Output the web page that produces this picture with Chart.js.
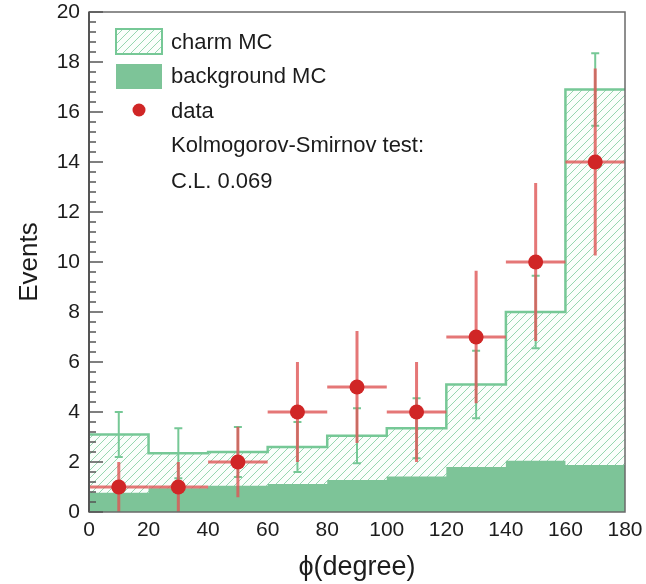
<!DOCTYPE html>
<html>
<head>
<meta charset="utf-8">
<script src="https://cdn.jsdelivr.net/npm/chart.js@4.4.1/dist/chart.umd.min.js"></script>
<style>
html,body{margin:0;padding:0;background:#fff;}
#wrap{width:646px;height:584px;position:relative;}
</style>
</head>
<body>
<div id="wrap"><canvas id="c" width="646" height="584"></canvas></div>
<script>
// ---- data ----
const binEdges     = [0, 20, 40, 60, 80, 100, 120, 140, 160, 180];
const charmMC      = [3.1, 2.35, 2.4, 2.6, 3.05, 3.35, 5.1, 8.0, 16.9];
const charmErr     = [0.9, 1.0, 1.0, 1.0, 1.1, 1.2, 1.35, 1.45, 1.45];
const backgroundMC = [0.77, 0.95, 1.05, 1.12, 1.28, 1.42, 1.8, 2.05, 1.88];
const dataCounts   = [1, 1, 2, 4, 5, 4, 7, 10, 14];
const dataErr      = [1, 1, 1.41, 2, 2.24, 2, 2.65, 3.16, 3.74];
const yTickValues  = [0, 2, 4, 6, 8, 10, 12, 14, 16, 18, 20];
const xTickValues  = [0, 20, 40, 60, 80, 100, 120, 140, 160, 180];
const legendLabels = ['charm MC', 'background MC', 'data'];
const ksText       = ['Kolmogorov-Smirnov test:', 'C.L. 0.069'];

const GREEN_LINE = 'rgb(118,200,150)';
const GREEN_FILL = 'rgb(125,196,152)';
const RED_PT = 'rgb(208,38,38)';
const RED_BAR = 'rgba(222,85,85,0.8)';
const TEXT = '#1c1c1c';
const FONT = '"Liberation Sans", Arial, Helvetica, sans-serif';

function stepPoints(vals){
  return binEdges.map((x,i)=>({x:x, y:vals[Math.min(i, vals.length-1)]}));
}
const binCenters = binEdges.slice(0,-1).map((e,i)=>(e+binEdges[i+1])/2);

function makeHatch(){
  const s = 8;
  const c = document.createElement('canvas'); c.width = s; c.height = s;
  const g = c.getContext('2d');
  g.fillStyle = 'rgb(250,254,251)'; g.fillRect(0,0,s,s);
  g.strokeStyle = 'rgb(150,214,176)'; g.lineWidth = 1;
  g.beginPath();
  g.moveTo(0,s); g.lineTo(s,0);
  g.moveTo(-2,2); g.lineTo(2,-2);
  g.moveTo(s-2,s+2); g.lineTo(s+2,s-2);
  g.stroke();
  return g.createPattern(c,'repeat');
}
const hatch = makeHatch();

const decoPlugin = {
  id:'deco',
  afterDatasetDraw(chart, args){
    const ctx = chart.ctx, xs = chart.scales.x, ys = chart.scales.y;
    if (args.index === 1){
      ctx.save();
      ctx.strokeStyle = GREEN_LINE; ctx.lineWidth = 2;
      binCenters.forEach((xc,i)=>{
        const px = xs.getPixelForValue(xc);
        const yt = ys.getPixelForValue(charmMC[i]+charmErr[i]);
        const yb = ys.getPixelForValue(charmMC[i]-charmErr[i]);
        ctx.beginPath();
        ctx.moveTo(px,yt); ctx.lineTo(px,yb);
        ctx.moveTo(px-4,yt); ctx.lineTo(px+4,yt);
        ctx.moveTo(px-4,yb); ctx.lineTo(px+4,yb);
        ctx.stroke();
      });
      ctx.restore();
    }
  },
  beforeDatasetDraw(chart, args){
    if (args.index !== 0) return;
    const ctx = chart.ctx, xs = chart.scales.x, ys = chart.scales.y;
    ctx.save();
    ctx.strokeStyle = RED_BAR; ctx.lineWidth = 3;
    binCenters.forEach((xc,i)=>{
      const px = xs.getPixelForValue(xc);
      const py = ys.getPixelForValue(dataCounts[i]);
      const yt = ys.getPixelForValue(dataCounts[i]+dataErr[i]);
      const yb = ys.getPixelForValue(Math.max(0,dataCounts[i]-dataErr[i]));
      const xl = xs.getPixelForValue(binEdges[i]);
      const xr = xs.getPixelForValue(binEdges[i+1]);
      ctx.beginPath();
      ctx.moveTo(px,yt); ctx.lineTo(px,yb);
      ctx.moveTo(xl,py); ctx.lineTo(xr,py);
      ctx.stroke();
    });
    ctx.restore();
  },
  afterDraw(chart){
    const ctx = chart.ctx, a = chart.chartArea, ys = chart.scales.y;
    ctx.save();
    ctx.strokeStyle = '#6a6a6a'; ctx.lineWidth = 1.5;
    ctx.strokeRect(a.left, a.top, a.right-a.left, a.bottom-a.top);
    ctx.strokeStyle = '#555'; ctx.lineWidth = 2;
    ctx.beginPath(); ctx.moveTo(a.left, a.top); ctx.lineTo(a.left, a.bottom); ctx.stroke();
    ctx.lineWidth = 1.5; ctx.strokeStyle = '#555';
    const minor = 0.4;
    for (let k = 0; k <= Math.round(20/minor); k++){
      const v = k*minor;
      const isMajor = Math.abs(v/2 - Math.round(v/2)) < 1e-6;
      const py = ys.getPixelForValue(v);
      ctx.beginPath(); ctx.moveTo(a.left, py); ctx.lineTo(a.left + (isMajor?14:7), py); ctx.stroke();
    }
    // legend
    const bx = a.left + 27, bw = 46, bh = 25;
    const by = a.top + 17;
    ctx.fillStyle = hatch; ctx.fillRect(bx, by, bw, bh);
    ctx.strokeStyle = GREEN_LINE; ctx.lineWidth = 2; ctx.strokeRect(bx, by, bw, bh);
    ctx.fillStyle = GREEN_FILL; ctx.fillRect(bx, by+35, bw, bh);
    ctx.fillStyle = RED_PT; ctx.beginPath(); ctx.arc(bx+bw/2, by+81, 6.5, 0, Math.PI*2); ctx.fill();
    ctx.fillStyle = TEXT; ctx.font = '22px ' + FONT; ctx.textBaseline = 'middle'; ctx.textAlign = 'left';
    const tx = bx + 55;
    const rows = [by+14, by+48, by+83, by+117, by+153];
    legendLabels.concat(ksText).forEach((t,i)=>ctx.fillText(t, tx, rows[i]));
    ctx.restore();
  }
};

new Chart(document.getElementById('c'), {
  type:'line',
  data:{
    datasets:[
      { label:'data', type:'scatter', data: binCenters.map((x,i)=>({x:x, y:dataCounts[i]})),
        pointRadius:7.5, pointBackgroundColor:RED_PT, pointBorderColor:RED_PT, pointBorderWidth:0, showLine:false, order:0 },
      { label:'background MC', data: stepPoints(backgroundMC), stepped:true, fill:'origin',
        backgroundColor:GREEN_FILL, borderColor:GREEN_FILL, borderWidth:0, pointRadius:0, order:1 },
      { label:'charm MC', data: stepPoints(charmMC), stepped:true, fill:'origin',
        backgroundColor:hatch, borderColor:GREEN_LINE, borderWidth:2.5, pointRadius:0, order:2 }
    ]
  },
  options:{
    responsive:false, animation:false, devicePixelRatio:1,
    layout:{padding:{top:12, right:21, left:0, bottom:0}},
    plugins:{legend:{display:false}, tooltip:{enabled:false}},
    scales:{
      x:{ type:'linear', min:0, max:180,
          afterBuildTicks(s){ s.ticks = xTickValues.map(v=>({value:v})); },
          afterFit(s){ s.height = 72; s.paddingLeft = 0; s.paddingRight = 0; },
          grid:{display:false, drawTicks:false}, border:{display:false},
          ticks:{padding:6, color:TEXT, font:{family:FONT, size:21}, maxRotation:0},
          title:{display:true, text:'ϕ(degree)', color:TEXT, font:{family:FONT, size:27}, padding:{top:0,bottom:0}} },
      y:{ type:'linear', min:0, max:20,
          afterBuildTicks(s){ s.ticks = yTickValues.map(v=>({value:v})); },
          afterFit(s){ s.width = 89; s.paddingTop = 0; s.paddingBottom = 0; },
          grid:{display:false, drawTicks:false}, border:{display:false},
          ticks:{padding:9, color:TEXT, font:{family:FONT, size:21, lineHeight:0.3}},
          title:{display:true, text:'Events', color:TEXT, font:{family:FONT, size:26}, padding:{top:14,bottom:0}} }
    }
  },
  plugins:[decoPlugin]
});
</script>
</body>
</html>
